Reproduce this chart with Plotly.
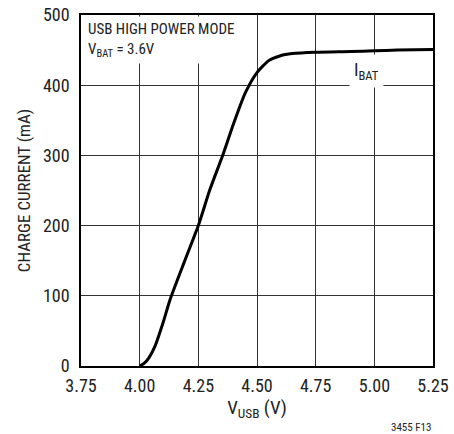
import plotly.graph_objects as go

# V_USB (V) vs charge current (mA)
v_usb = [4.00, 4.02, 4.04, 4.065, 4.10, 4.13, 4.19, 4.25, 4.30, 4.356, 4.40,
         4.45, 4.50, 4.55, 4.60, 4.65, 4.75, 4.90, 5.00, 5.10, 5.25]
i_bat = [0, 4, 12, 28, 62, 95, 148, 200, 252, 302, 345,
         389, 418, 435, 442, 445, 447, 448, 449, 450, 451]

x_ticks = [3.75, 4.00, 4.25, 4.50, 4.75, 5.00, 5.25]
y_ticks = [0, 100, 200, 300, 400, 500]

FONT = "Liberation Sans Narrow, Roboto Condensed, Arial Narrow, sans-serif"
INK = "#222"

fig = go.Figure()
fig.add_trace(go.Scatter(
    x=v_usb, y=i_bat, mode="lines",
    line=dict(color="black", width=3, shape="spline", smoothing=0.6),
    showlegend=False, hoverinfo="skip",
))

fig.update_xaxes(
    range=[3.75, 5.25], tickvals=x_ticks, ticktext=[f"{v:.2f}" for v in x_ticks],
    showgrid=True, gridcolor="#333", gridwidth=1,
    showline=True, linecolor="black", linewidth=1.5, mirror=True,
    zeroline=False, ticks="", ticklabelstandoff=3, automargin=False,
    tickfont=dict(size=18, color=INK),
    title=dict(text="V<sub>USB</sub> (V)", font=dict(size=19, color=INK), standoff=4),
)
fig.update_yaxes(
    range=[0, 500], tickvals=y_ticks,
    showgrid=True, gridcolor="#333", gridwidth=1,
    showline=True, linecolor="black", linewidth=1.5, mirror=True,
    zeroline=False, ticks="", ticklabelstandoff=6, automargin=False,
    tickfont=dict(size=18, color=INK),
    title=dict(text="CHARGE CURRENT (mA)", font=dict(size=17, color=INK), standoff=8),
)

fig.add_annotation(x=0, y=1, xref="paper", yref="paper", xanchor="left", yanchor="top",
                   xshift=3, yshift=-1, showarrow=False, align="left",
                   bgcolor="white", borderpad=3,
                   text="USB HIGH POWER MODE<br>V<sub>BAT</sub> = 3.6V",
                   font=dict(size=15, color=INK))
fig.add_annotation(x=4.968, y=420, showarrow=False, text="I<sub>BAT</sub>",
                   bgcolor="white", borderpad=4,
                   font=dict(size=18, color=INK))
fig.add_annotation(x=1, y=0, xref="paper", yref="paper", xanchor="right", yanchor="middle",
                   yshift=-61, xshift=0, showarrow=False, text="3455 F13",
                   font=dict(size=11, color=INK))

fig.update_layout(
    width=454, height=434,
    margin=dict(l=81, r=21, t=15, b=68),
    paper_bgcolor="white", plot_bgcolor="white",
    font=dict(family=FONT),
)

# drop the default 8px page margin so the figure fills the window
fig.write_html("out.html", config={"displayModeBar": False},
               post_script="document.body.style.margin='0';")
